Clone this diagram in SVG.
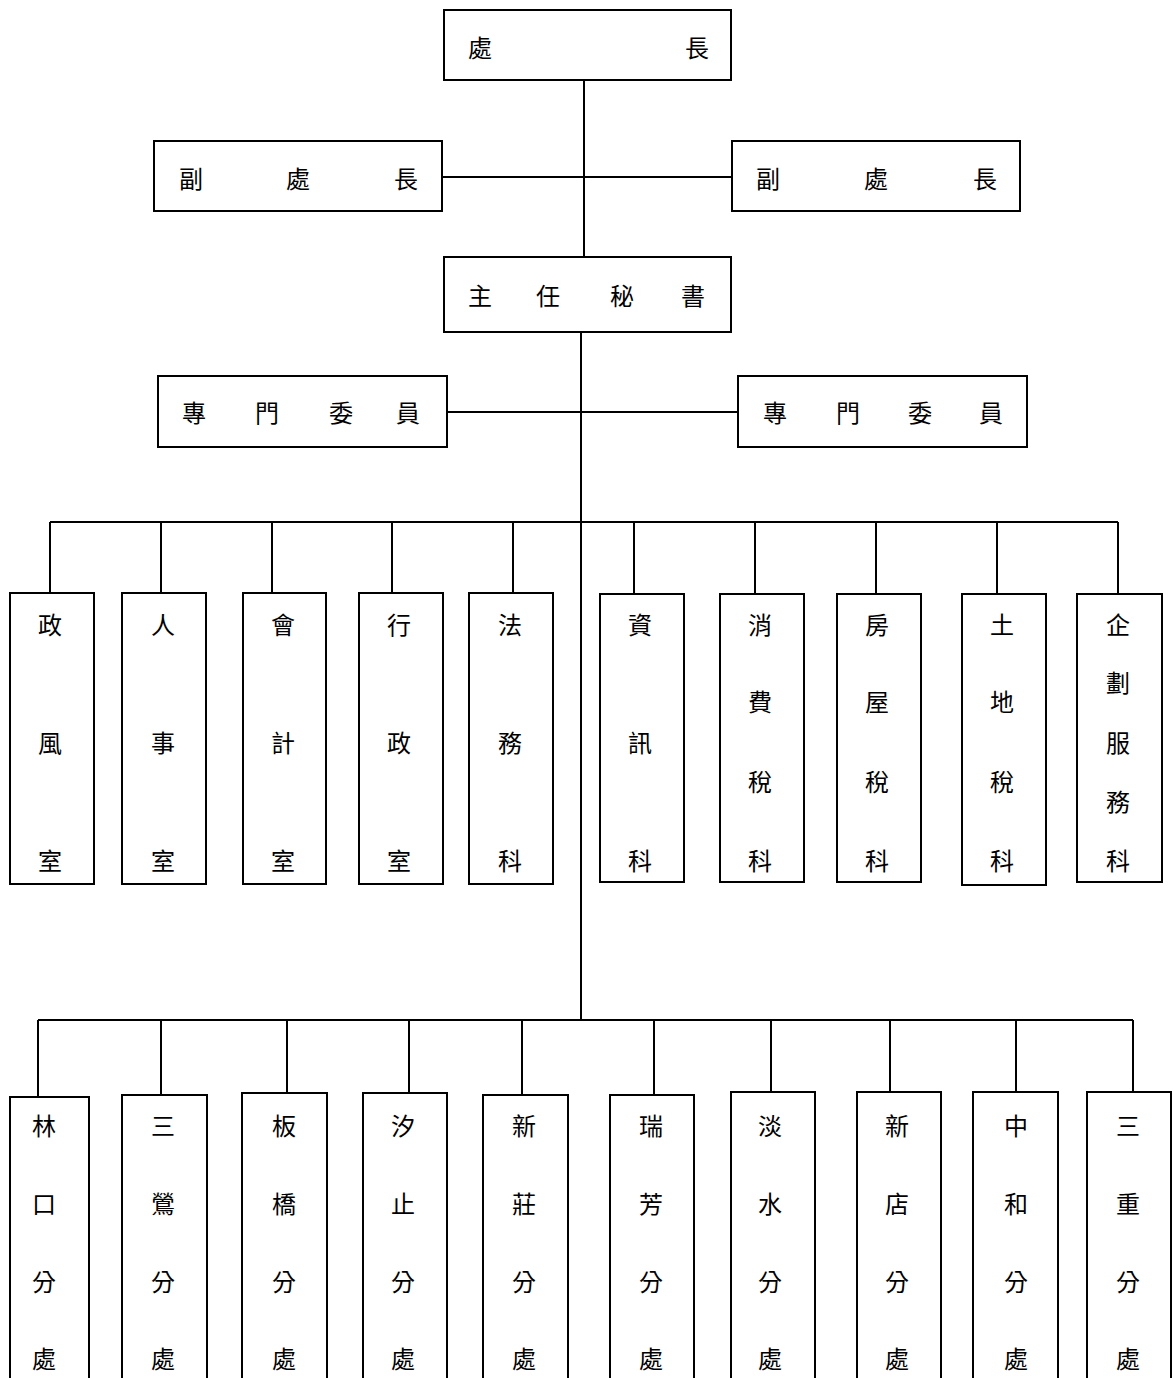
<svg xmlns="http://www.w3.org/2000/svg" width="1173" height="1378" viewBox="0 0 1173 1378">
<style>
.box{fill:#fff;stroke:#000;stroke-width:2}
.ln{stroke:#000;stroke-width:2;fill:none}
text{font-family:"Noto Sans CJK TC","Noto Sans CJK SC",sans-serif;font-size:24px;fill:#000;text-anchor:middle;dominant-baseline:central}
</style>
<rect width="1173" height="1378" fill="#fff"/>
<g id="connectors">
<line class="ln" x1="584" y1="80" x2="584" y2="257"/>
<line class="ln" x1="442" y1="177" x2="732" y2="177"/>
<line class="ln" x1="581" y1="332" x2="581" y2="1021"/>
<line class="ln" x1="447" y1="412" x2="738" y2="412"/>
<line class="ln" x1="50" y1="522" x2="1118" y2="522"/>
<line class="ln" x1="50" y1="522" x2="50" y2="593"/>
<line class="ln" x1="161" y1="522" x2="161" y2="593"/>
<line class="ln" x1="272" y1="522" x2="272" y2="593"/>
<line class="ln" x1="392" y1="522" x2="392" y2="593"/>
<line class="ln" x1="513" y1="522" x2="513" y2="593"/>
<line class="ln" x1="634" y1="522" x2="634" y2="594"/>
<line class="ln" x1="755" y1="522" x2="755" y2="594"/>
<line class="ln" x1="876" y1="522" x2="876" y2="594"/>
<line class="ln" x1="997" y1="522" x2="997" y2="594"/>
<line class="ln" x1="1118" y1="522" x2="1118" y2="594"/>
<line class="ln" x1="38" y1="1020" x2="1133" y2="1020"/>
<line class="ln" x1="38" y1="1020" x2="38" y2="1097"/>
<line class="ln" x1="161" y1="1020" x2="161" y2="1095"/>
<line class="ln" x1="287" y1="1020" x2="287" y2="1093"/>
<line class="ln" x1="409" y1="1020" x2="409" y2="1093"/>
<line class="ln" x1="522" y1="1020" x2="522" y2="1095"/>
<line class="ln" x1="654" y1="1020" x2="654" y2="1095"/>
<line class="ln" x1="771" y1="1020" x2="771" y2="1092"/>
<line class="ln" x1="890" y1="1020" x2="890" y2="1092"/>
<line class="ln" x1="1016" y1="1020" x2="1016" y2="1092"/>
<line class="ln" x1="1133" y1="1020" x2="1133" y2="1092"/>
</g>
<g id="chief"><rect class="box" x="444" y="10" width="287" height="70"/><text x="480" y="46">處</text><text x="697" y="46">長</text></g>
<g id="deputy-left"><rect class="box" x="154" y="141" width="288" height="70"/><text x="191" y="177">副</text><text x="298" y="177">處</text><text x="406" y="177">長</text></g>
<g id="deputy-right"><rect class="box" x="732" y="141" width="288" height="70"/><text x="768" y="177">副</text><text x="876" y="177">處</text><text x="985" y="177">長</text></g>
<g id="secretary"><rect class="box" x="444" y="257" width="287" height="75"/><text x="480" y="294">主</text><text x="548" y="294">任</text><text x="622" y="294">秘</text><text x="693" y="294">書</text></g>
<g id="commissioner-left"><rect class="box" x="158" y="376" width="289" height="71"/><text x="194" y="411">專</text><text x="267" y="411">門</text><text x="341" y="411">委</text><text x="408" y="411">員</text></g>
<g id="commissioner-right"><rect class="box" x="738" y="376" width="289" height="71"/><text x="775" y="411">專</text><text x="848" y="411">門</text><text x="920" y="411">委</text><text x="991" y="411">員</text></g>
<g id="ethics"><rect class="box" x="10" y="593" width="84" height="291"/><text x="50" y="623">政</text><text x="50" y="741">風</text><text x="50" y="859">室</text></g>
<g id="personnel"><rect class="box" x="122" y="593" width="84" height="291"/><text x="163" y="623">人</text><text x="163" y="741">事</text><text x="163" y="859">室</text></g>
<g id="accounting"><rect class="box" x="243" y="593" width="83" height="291"/><text x="283" y="623">會</text><text x="283" y="741">計</text><text x="283" y="859">室</text></g>
<g id="admin"><rect class="box" x="359" y="593" width="84" height="291"/><text x="399" y="623">行</text><text x="399" y="741">政</text><text x="399" y="859">室</text></g>
<g id="legal"><rect class="box" x="469" y="593" width="84" height="291"/><text x="510" y="623">法</text><text x="510" y="741">務</text><text x="510" y="859">科</text></g>
<g id="it"><rect class="box" x="600" y="594" width="84" height="288"/><text x="640" y="623">資</text><text x="640" y="741">訊</text><text x="640" y="859">科</text></g>
<g id="consumption-tax"><rect class="box" x="720" y="594" width="84" height="288"/><text x="760" y="623">消</text><text x="760" y="700">費</text><text x="760" y="780">稅</text><text x="760" y="859">科</text></g>
<g id="house-tax"><rect class="box" x="837" y="594" width="84" height="288"/><text x="877" y="623">房</text><text x="877" y="700">屋</text><text x="877" y="780">稅</text><text x="877" y="859">科</text></g>
<g id="land-tax"><rect class="box" x="962" y="594" width="84" height="291"/><text x="1002" y="623">土</text><text x="1002" y="700">地</text><text x="1002" y="780">稅</text><text x="1002" y="859">科</text></g>
<g id="planning"><rect class="box" x="1077" y="594" width="85" height="288"/><text x="1118" y="623">企</text><text x="1118" y="681">劃</text><text x="1118" y="741">服</text><text x="1118" y="800">務</text><text x="1118" y="859">科</text></g>
<g id="linkou"><rect class="box" x="10" y="1097" width="79" height="300"/><text x="44" y="1124">林</text><text x="44" y="1202">口</text><text x="44" y="1280">分</text><text x="44" y="1357">處</text></g>
<g id="sanying"><rect class="box" x="122" y="1095" width="85" height="300"/><text x="163" y="1124">三</text><text x="163" y="1202">鶯</text><text x="163" y="1280">分</text><text x="163" y="1357">處</text></g>
<g id="banqiao"><rect class="box" x="242" y="1093" width="85" height="300"/><text x="284" y="1124">板</text><text x="284" y="1202">橋</text><text x="284" y="1280">分</text><text x="284" y="1357">處</text></g>
<g id="xizhi"><rect class="box" x="363" y="1093" width="84" height="300"/><text x="403" y="1124">汐</text><text x="403" y="1202">止</text><text x="403" y="1280">分</text><text x="403" y="1357">處</text></g>
<g id="xinzhuang"><rect class="box" x="483" y="1095" width="85" height="300"/><text x="524" y="1124">新</text><text x="524" y="1202">莊</text><text x="524" y="1280">分</text><text x="524" y="1357">處</text></g>
<g id="ruifang"><rect class="box" x="610" y="1095" width="84" height="300"/><text x="651" y="1124">瑞</text><text x="651" y="1202">芳</text><text x="651" y="1280">分</text><text x="651" y="1357">處</text></g>
<g id="tamsui"><rect class="box" x="731" y="1092" width="84" height="300"/><text x="770" y="1124">淡</text><text x="770" y="1202">水</text><text x="770" y="1280">分</text><text x="770" y="1357">處</text></g>
<g id="xindian"><rect class="box" x="857" y="1092" width="84" height="300"/><text x="897" y="1124">新</text><text x="897" y="1202">店</text><text x="897" y="1280">分</text><text x="897" y="1357">處</text></g>
<g id="zhonghe"><rect class="box" x="973" y="1092" width="85" height="300"/><text x="1016" y="1124">中</text><text x="1016" y="1202">和</text><text x="1016" y="1280">分</text><text x="1016" y="1357">處</text></g>
<g id="sanchong"><rect class="box" x="1087" y="1092" width="84" height="300"/><text x="1128" y="1124">三</text><text x="1128" y="1202">重</text><text x="1128" y="1280">分</text><text x="1128" y="1357">處</text></g>
</svg>
